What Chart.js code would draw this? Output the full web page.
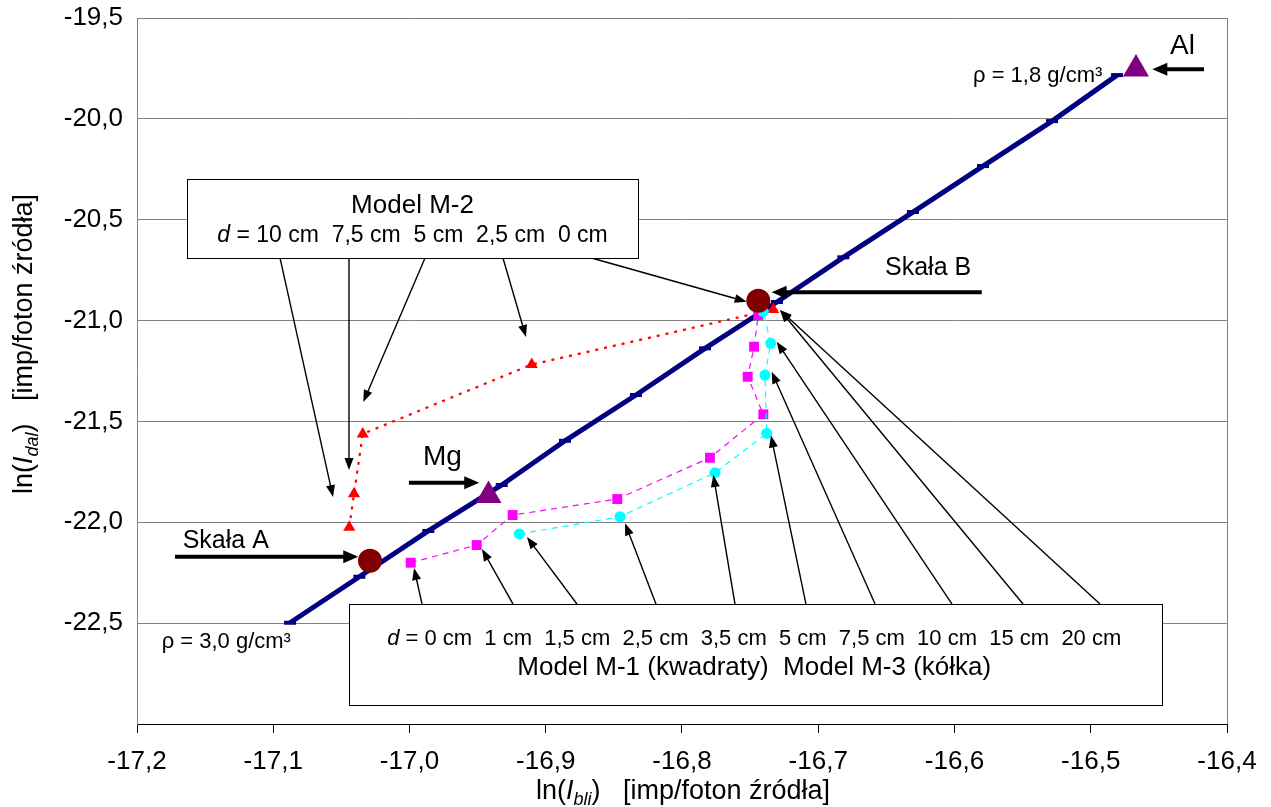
<!DOCTYPE html>
<html><head><meta charset="utf-8">
<script src="https://cdn.jsdelivr.net/npm/chart.js@4/dist/chart.umd.min.js"></script>
<style>html,body{margin:0;padding:0;background:#fff;}canvas{display:block;}</style>
</head><body>
<canvas id="c" width="1271" height="807"></canvas>
<script>
const FONT = '"Liberation Sans", Arial, Helvetica, sans-serif';

// axis ticks
const xTickValues = [-17.2, -17.1, -17.0, -16.9, -16.8, -16.7, -16.6, -16.5, -16.4];
const xTickLabels = ['-17,2', '-17,1', '-17,0', '-16,9', '-16,8', '-16,7', '-16,6', '-16,5', '-16,4'];
const yTickValues = [-23.0, -22.5, -22.0, -21.5, -21.0, -20.5, -20.0, -19.5];
const yTickLabels = ['', '-22,5', '-22,0', '-21,5', '-21,0', '-20,5', '-20,0', '-19,5'];

// density calibration line, rho = 3.0 ... 1.8 g/cm3
const rhoValues = [3.0, 2.9, 2.8, 2.7, 2.6, 2.5, 2.4, 2.3, 2.2, 2.1, 2.0, 1.9, 1.8];
const rhoLineX = [-17.0877, -17.0368, -16.9862, -16.9323, -16.8859, -16.8338, -16.7831, -16.7303, -16.6816, -16.6305, -16.5791, -16.5284, -16.4807];
const rhoLineY = [-22.498, -22.270, -22.043, -21.815, -21.596, -21.369, -21.1376, -20.908, -20.6864, -20.462, -20.234, -20.011, -19.783];

// Model M-2 (red triangles), d in cm
const m2D = [10, 7.5, 5, 2.5, 0];
const m2X = [-17.0442, -17.0407, -17.0343, -16.9103, -16.7330];
const m2Y = [-22.024, -21.859, -21.562, -21.218, -20.945];

// Model M-1 (squares), d in cm
const m1D = [0, 1, 1.5, 2.5, 3.5, 5, 7.5, 10, 15, 20];
const m1X = [-16.9991, -16.9507, -16.9243, -16.8475, -16.7795, -16.7403, -16.7518, -16.7471, -16.7440, -16.7442];
const m1Y = [-22.2005, -22.1128, -21.9640, -21.8847, -21.6800, -21.4648, -21.2784, -21.1297, -20.9725, -20.9230];

// Model M-3 (circles), d in cm
const m3D = [1.5, 2.5, 3.5, 5, 7.5, 10, 15, 20];
const m3X = [-16.9194, -16.8455, -16.7758, -16.7378, -16.7391, -16.7349, -16.7403, -16.7427];
const m3Y = [-22.0580, -21.9725, -21.7543, -21.5590, -21.2700, -21.1128, -20.9560, -20.9180];

// rocks A and B
const rockNames = ['Skała A', 'Skała B'];
const rockX = [-17.029, -16.744];
const rockY = [-22.191, -20.9016];

// elements Al and Mg
const elemNames = ['Al', 'Mg'];
const elemX = [-16.4668, -16.9420];
const elemY = [-19.7528, -21.8670];

const pts = (xs, ys) => xs.map((x, i) => ({x: x, y: ys[i]}));

// annotation geometry (data units)
const m2Box = {x1: -17.1635, y1: -20.2997, x2: -16.8321, y2: -20.690};
const m13Box = {x1: -17.0444, y1: -22.4053, x2: -16.4477, y2: -22.906};
const thinArrows = [
  [-17.0950, -20.690, -17.0561, -21.875],
  [-17.0444, -20.690, -17.0444, -21.741],
  [-16.9886, -20.690, -17.0339, -21.404],
  [-16.9314, -20.690, -16.9145, -21.0816],
  [-16.8690, -20.685, -16.7525, -20.9066],
  [-16.9908, -22.4053, -16.9967, -22.2268],
  [-16.9240, -22.4053, -16.9468, -22.1326],
  [-16.8771, -22.4053, -16.9138, -22.0731],
  [-16.8191, -22.4053, -16.8418, -22.0052],
  [-16.7611, -22.4053, -16.7770, -21.7658],
  [-16.7090, -22.4053, -16.7347, -21.5699],
  [-16.6583, -22.4053, -16.7342, -21.2536],
  [-16.6018, -22.4053, -16.7305, -21.1049],
  [-16.5497, -22.4053, -16.7281, -20.9477],
  [-16.4932, -22.4053, -16.7281, -20.9477]
];
const thickArrows = [
  [-16.4169, -19.7543, -16.4548, -19.7543],
  [-16.5800, -20.860, -16.7342, -20.860],
  [-17.0004, -21.804, -16.9488, -21.804],
  [-17.1721, -22.171, -17.0376, -22.171]
];
const freeLabels = [
  {t: 'Skała B', x: -16.651, y: -20.7742, s: 25},
  {t: 'Skała A', x: -17.1665, y: -22.1292, s: 25},
  {t: 'Mg', x: -16.9901, y: -21.7162, s: 28},
  {t: 'Al', x: -16.4418, y: -19.680, s: 28},
  {t: 'ρ = 1,8 g/cm³', x: -16.5864, y: -19.8158, s: 22},
  {t: 'ρ = 3,0 g/cm³', x: -17.1819, y: -22.6235, s: 22}
];

function fontStr(s) {
  return (s.i ? 'italic ' : '') + (s.s || 22) + 'px ' + FONT;
}
function drawRich(ctx, segs, x, y, align) {
  let total = 0;
  for (const s of segs) { ctx.font = fontStr(s); s.w = ctx.measureText(s.t).width; total += s.w; }
  let cx = align === 'center' ? x - total / 2 : (align === 'right' ? x - total : x);
  ctx.textAlign = 'left';
  ctx.textBaseline = 'alphabetic';
  for (const s of segs) { ctx.font = fontStr(s); ctx.fillText(s.t, cx, y + (s.dy || 0)); cx += s.w; }
}
function drawArrow(ctx, x1, y1, x2, y2, lw, hl, hw) {
  const a = Math.atan2(y2 - y1, x2 - x1);
  const bx = x2 - Math.cos(a) * hl, by = y2 - Math.sin(a) * hl;
  ctx.lineWidth = lw;
  ctx.beginPath(); ctx.moveTo(x1, y1); ctx.lineTo(bx + Math.cos(a) * 1, by + Math.sin(a) * 1); ctx.stroke();
  ctx.beginPath();
  ctx.moveTo(x2, y2);
  ctx.lineTo(bx + Math.sin(a) * hw, by - Math.cos(a) * hw);
  ctx.lineTo(bx - Math.sin(a) * hw, by + Math.cos(a) * hw);
  ctx.closePath(); ctx.fill();
}

const annotPlugin = {
  id: 'annot',
  afterDatasetsDraw(chart) {
    const ctx = chart.ctx, xs = chart.scales.x, ys = chart.scales.y;
    const px = v => xs.getPixelForValue(v), py = v => ys.getPixelForValue(v);
    ctx.save();
    ctx.strokeStyle = '#000'; ctx.fillStyle = '#000';
    for (const a of thinArrows) drawArrow(ctx, px(a[0]), py(a[1]), px(a[2]), py(a[3]), 1.4, 12, 4.5);
    for (const a of thickArrows) drawArrow(ctx, px(a[0]), py(a[1]), px(a[2]), py(a[3]), 4, 15, 6.5);
    // boxes
    for (const b of [m2Box, m13Box]) {
      const l = Math.round(px(b.x1)) + 0.5, t = Math.round(py(b.y1)) + 0.5;
      const r = Math.round(px(b.x2)) + 0.5, bt = Math.round(py(b.y2)) + 0.5;
      ctx.fillStyle = '#fff'; ctx.fillRect(l, t, r - l, bt - t);
      ctx.strokeStyle = '#000'; ctx.lineWidth = 1; ctx.strokeRect(l, t, r - l, bt - t);
    }
    ctx.fillStyle = '#000';
    const cM2 = px((m2Box.x1 + m2Box.x2) / 2);
    drawRich(ctx, [{t: 'Model M-2', s: 26}], cM2, py(-20.4683), 'center');
    drawRich(ctx, [{t: 'd', s: 23, i: true}, {t: ' = 10 cm  7,5 cm  5 cm  2,5 cm  0 cm', s: 23}], cM2, py(-20.6091), 'center');
    const cM13 = px(-16.747);
    drawRich(ctx, [{t: 'd', s: 22, i: true}, {t: ' = 0 cm  1 cm  1,5 cm  2,5 cm  3,5 cm  5 cm  7,5 cm  10 cm  15 cm  20 cm', s: 22}], cM13, py(-22.6086), 'center');
    drawRich(ctx, [{t: 'Model M-1 (kwadraty)  Model M-3 (kółka)', s: 26}], cM13, py(-22.7573), 'center');
    for (const L of freeLabels) drawRich(ctx, [{t: L.t, s: L.s}], px(L.x), py(L.y), 'left');
    ctx.restore();
  },
  afterDraw(chart) {
    const ctx = chart.ctx, area = chart.chartArea;
    ctx.save();
    ctx.fillStyle = '#000';
    const xt = [{t: 'ln(', s: 27}, {t: 'I', s: 27, i: true}, {t: 'bli', s: 18, i: true, dy: 6}, {t: ')', s: 27}, {t: '   [imp/foton źródła]', s: 27}];
    drawRich(ctx, xt, 683, 799, 'center');
    ctx.translate(32, 344);
    ctx.rotate(-Math.PI / 2);
    const yt = [{t: 'ln(', s: 27}, {t: 'I', s: 27, i: true}, {t: 'dal', s: 18, i: true, dy: 6}, {t: ')', s: 27}, {t: '   [imp/foton źródła]', s: 27}];
    drawRich(ctx, yt, 0, 0, 'center');
    ctx.restore();
  }
};

new Chart(document.getElementById('c'), {
  type: 'scatter',
  data: {
    datasets: [
      {label: 'Skały', data: pts(rockX, rockY), showLine: false, pointStyle: 'circle', pointRadius: 12, pointBackgroundColor: '#800000', pointBorderColor: '#800000', pointBorderWidth: 0},
      {label: 'Al, Mg', data: pts(elemX, elemY), showLine: false, pointStyle: 'triangle', pointRadius: 15, pointBackgroundColor: '#800080', pointBorderColor: '#800080', pointBorderWidth: 0},
      {label: 'Model M-3', data: pts(m3X, m3Y), showLine: true, borderColor: '#00FFFF', borderWidth: 1.2, borderDash: [6, 5], pointStyle: 'circle', pointRadius: 5.5, pointBackgroundColor: '#00FFFF', pointBorderColor: '#00FFFF', pointBorderWidth: 0},
      {label: 'Model M-1', data: pts(m1X, m1Y), showLine: true, borderColor: '#FF00FF', borderWidth: 1.2, borderDash: [6, 5], pointStyle: 'rect', pointRadius: 7, pointBackgroundColor: '#FF00FF', pointBorderColor: '#FF00FF', pointBorderWidth: 0},
      {label: 'Model M-2', data: pts(m2X, m2Y), showLine: true, borderColor: '#FF0000', borderWidth: 2.2, borderDash: [3, 6], pointStyle: 'triangle', pointRadius: 7, pointBackgroundColor: '#FF0000', pointBorderColor: '#FF0000', pointBorderWidth: 0},
      {label: 'ρ', data: pts(rhoLineX, rhoLineY), showLine: true, borderColor: '#000080', borderWidth: 5, pointStyle: 'line', pointRadius: 6, pointBorderColor: '#000080', pointBackgroundColor: '#000080', pointBorderWidth: 4}
    ]
  },
  options: {
    responsive: false,
    animation: false,
    devicePixelRatio: 1,
    layout: {padding: {top: 18, right: 44, left: 0, bottom: 0}},
    plugins: {legend: {display: false}, tooltip: {enabled: false}},
    events: [],
    scales: {
      x: {
        type: 'linear', min: -17.2, max: -16.4,
        afterBuildTicks: s => { s.ticks = xTickValues.map(v => ({value: v})); },
        afterFit: s => { s.height = 83; s.paddingLeft = 0; s.paddingRight = 0; },
        ticks: {callback: (v, i) => xTickLabels[i], font: {family: FONT, size: 26}, color: '#000', padding: 13, maxRotation: 0, autoSkip: false},
        grid: {color: c => (c.index === xTickValues.length - 1 ? '#808080' : 'rgba(0,0,0,0)'), tickColor: '#000', tickLength: 9, lineWidth: 1},
        border: {color: '#000', width: 1},
        title: {display: false}
      },
      y: {
        type: 'linear', min: -23, max: -19.5,
        afterBuildTicks: s => { s.ticks = yTickValues.map(v => ({value: v})); },
        afterFit: s => { s.width = 137; s.paddingTop = 0; s.paddingBottom = 0; },
        ticks: {callback: (v, i) => yTickLabels[i], font: {family: FONT, size: 26}, color: '#000', padding: 14},
        grid: {color: '#808080', drawTicks: false, lineWidth: 1},
        border: {color: '#808080', width: 1},
        title: {display: false}
      }
    }
  },
  plugins: [annotPlugin]
});
</script>
</body></html>
